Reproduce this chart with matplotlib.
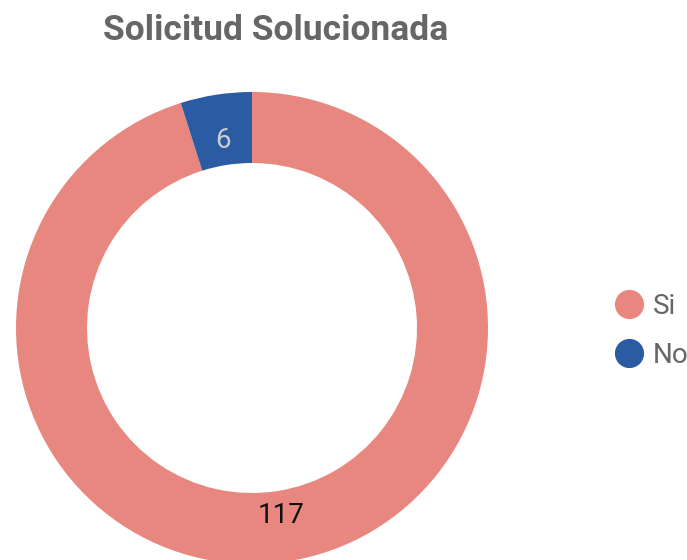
import matplotlib
matplotlib.use("Agg")
import matplotlib.pyplot as plt
from matplotlib.lines import Line2D

categories = ["Si", "No"]
values = [117, 6]
colors = ["#E8877F", "#2B5BA3"]
label_colors = ["#111111", "#C9CDD4"]
title = "Solicitud Solucionada"

W, H = 687, 560
fig = plt.figure(figsize=(W / 100, H / 100), dpi=100)
ax = fig.add_axes([0, 0, 1, 1])
ax.set_xlim(0, W)
ax.set_ylim(0, H)
ax.set_aspect("equal")
ax.axis("off")

total = sum(values)
R = 236
wedges, texts, autotexts = ax.pie(
    values, colors=colors, startangle=90, counterclock=False,
    center=(252, H - 328), radius=R,
    wedgeprops=dict(width=71, linewidth=0),
    autopct=lambda p: f"{round(p * total / 100)}", pctdistance=0.805,
    textprops=dict(fontsize=20, family=["Roboto", "DejaVu Sans"]),
)
for t, c in zip(autotexts, label_colors):
    t.set_color(c)
ax.set_xlim(0, W)
ax.set_ylim(0, H)

fig.text(276 / W, 1 - 31 / H, title, ha="center", va="center", fontsize=25.5,
         fontweight="bold", color="#666666", family=["Roboto", "DejaVu Sans"])

handles = [Line2D([], [], marker="o", linestyle="none", markersize=21,
                  markerfacecolor=c, markeredgewidth=0) for c in colors]
leg = ax.legend(handles, categories, loc="center left", bbox_to_anchor=(609 / W, 1 - 331 / H),
                frameon=False, handletextpad=0.15, labelspacing=0.78,
                borderpad=0, borderaxespad=0, handlelength=1.42,
                prop=dict(family="Roboto", size=20))
for t in leg.get_texts():
    t.set_color("#666666")

fig.savefig("out.png", dpi=100)
